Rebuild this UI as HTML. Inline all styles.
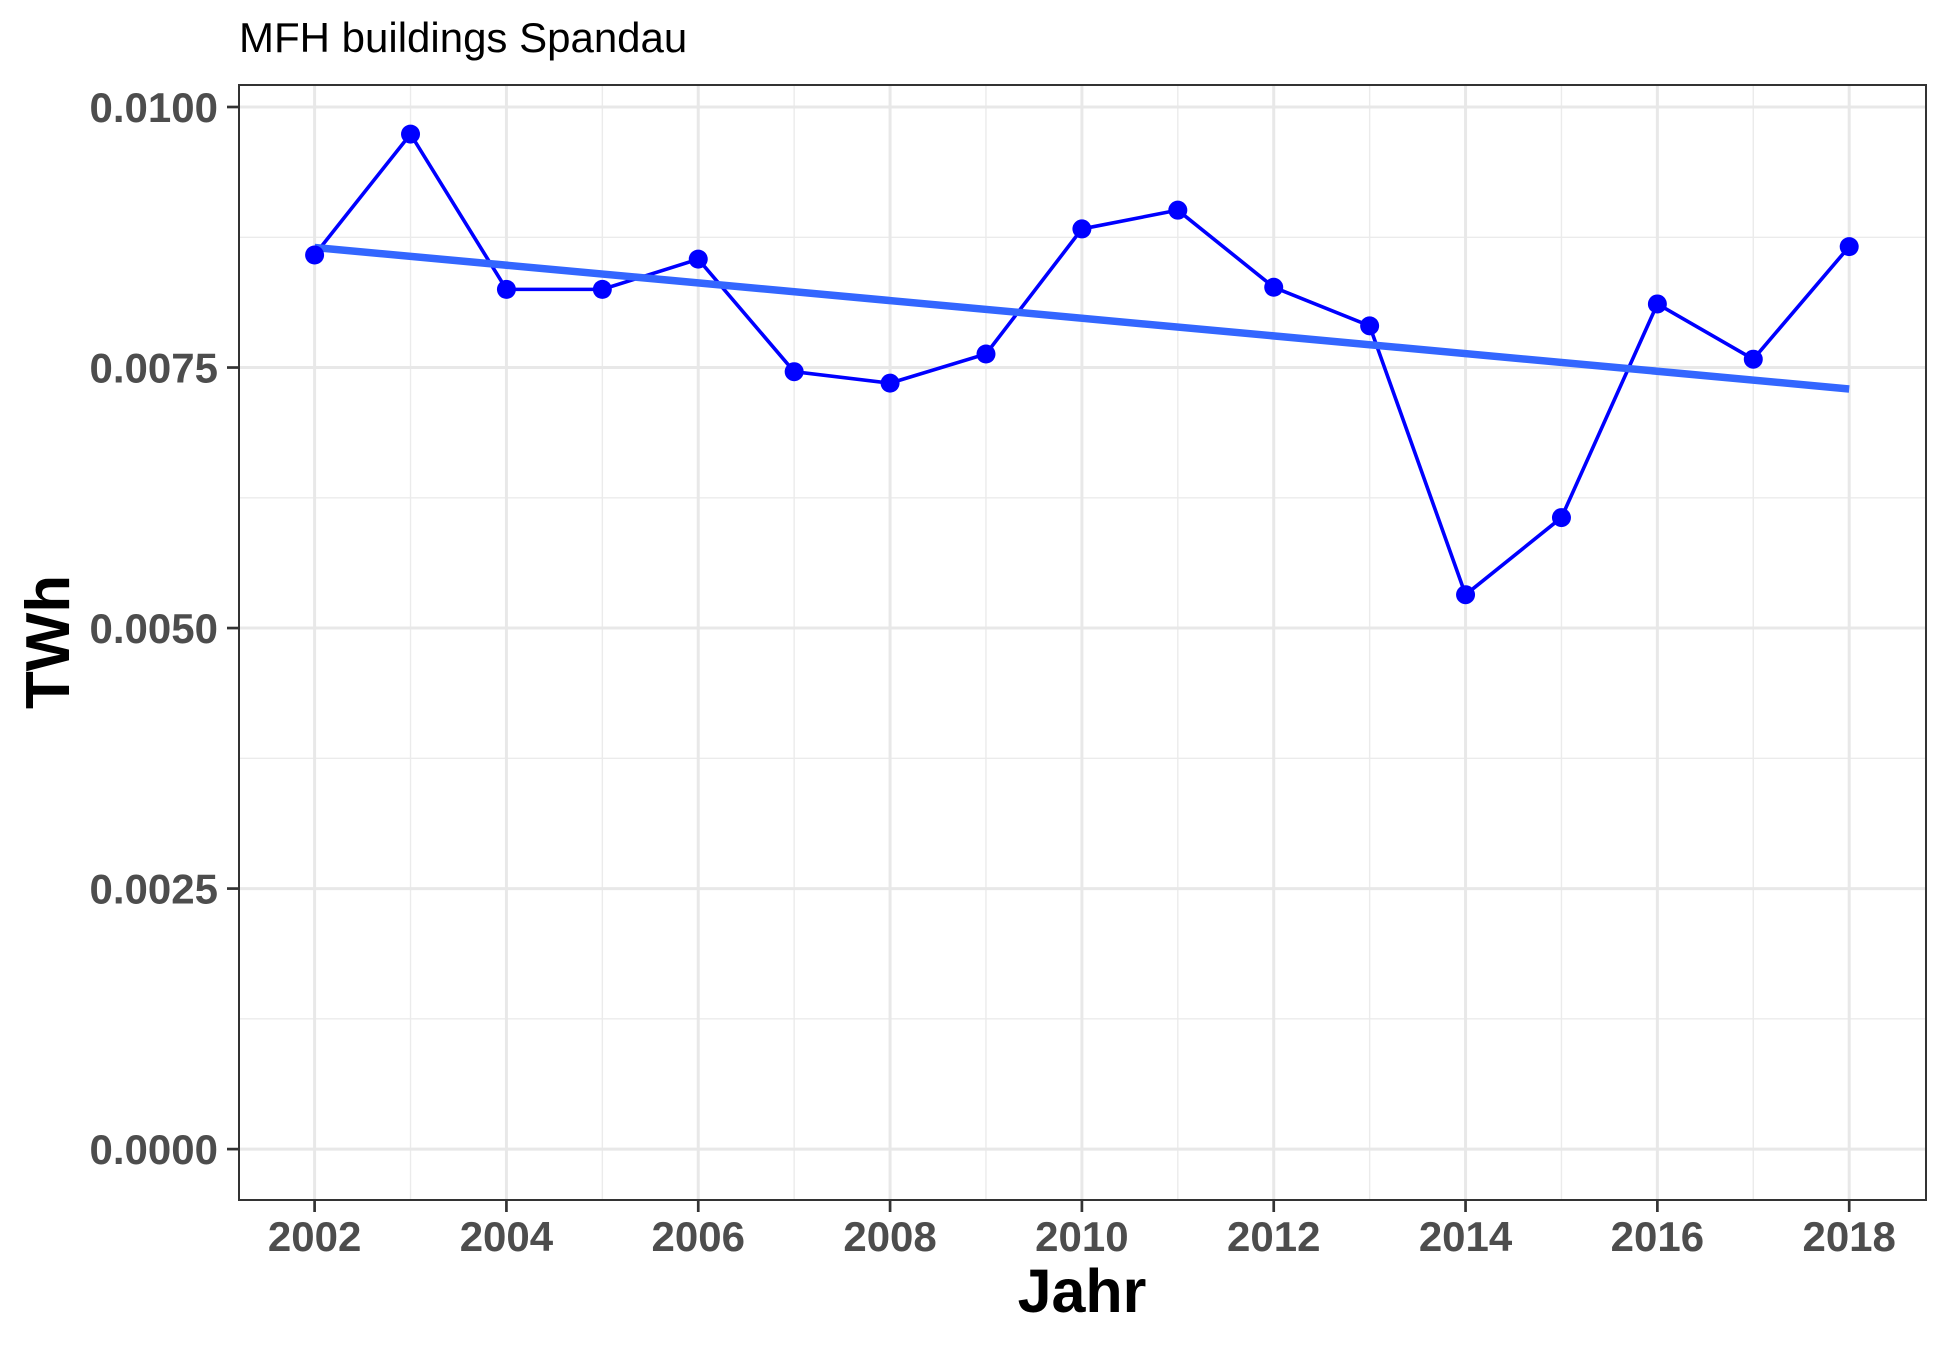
<!DOCTYPE html>
<html><head><meta charset="utf-8"><style>
body{margin:0;background:#fff}
svg{display:block;font-family:"Liberation Sans",sans-serif}
</style></head><body>
<svg id="c" width="1950" height="1349">
<text x="239" y="52" font-size="42" fill="#000">MFH buildings Spandau</text>
<g id="grid"></g>
<g id="marks"></g>
<rect x="239" y="85" width="1687" height="1115" fill="none" stroke="#333" stroke-width="2"/>
<g id="axes"></g>
<text x="1082" y="1312" font-size="61" font-weight="bold" text-anchor="middle">Jahr</text>
<text transform="translate(69,642) rotate(-90)" font-size="62" font-weight="bold" text-anchor="middle">TWh</text>
</svg>
<script>
const years=[2002,2003,2004,2005,2006,2007,2008,2009,2010,2011,2012,2013,2014,2015,2016,2017,2018];
const values=[0.00858,0.00974,0.00825,0.00825,0.00854,0.00746,0.00735,0.00763,0.00883,0.00901,0.00827,0.00790,0.00532,0.00606,0.00811,0.00758,0.00866];
const yTicks=[0,0.0025,0.005,0.0075,0.01];
const yTickLabels=["0.0000","0.0025","0.0050","0.0075","0.0100"];
const xTicks=[2002,2004,2006,2008,2010,2012,2014,2016,2018];
const NS="http://www.w3.org/2000/svg";
const X=v=>314.6+(v-2002)*(1849.2-314.6)/16;
const Y=v=>1149.1-v*(1149.1-107.0)/0.01;
function mk(tag,attrs,parent){const e=document.createElementNS(NS,tag);for(const k in attrs)e.setAttribute(k,attrs[k]);parent.appendChild(e);return e;}
const grid=document.getElementById('grid'),marks=document.getElementById('marks'),axes=document.getElementById('axes');
for(let i=0;i<yTicks.length-1;i++){const v=(yTicks[i]+yTicks[i+1])/2;const l=mk('line',{x1:239,x2:1926,y1:Y(v),y2:Y(v),stroke:'#ebebeb','stroke-width':1.4},grid);

}
for(let y=2003;y<=2017;y+=2){const l=mk('line',{x1:X(y),x2:X(y),y1:85,y2:1200,stroke:'#ebebeb','stroke-width':1.4},grid);

}
yTicks.forEach((v,i)=>{const l=mk('line',{x1:239,x2:1926,y1:Y(v),y2:Y(v),stroke:'#e8e8e8','stroke-width':3},grid);


const t=mk('line',{x1:227,x2:239,y1:Y(v),y2:Y(v),stroke:'#333','stroke-width':2.7},axes);


const tx=mk('text',{x:218,y:Y(v)+15,'font-size':42,'font-weight':'bold',fill:'#4d4d4d','text-anchor':'end'},axes);tx.textContent=yTickLabels[i];

});
xTicks.forEach(v=>{const l=mk('line',{x1:X(v),x2:X(v),y1:85,y2:1200,stroke:'#e8e8e8','stroke-width':3},grid);


const t=mk('line',{x1:X(v),x2:X(v),y1:1200,y2:1212,stroke:'#333','stroke-width':2.7},axes);


const tx=mk('text',{x:X(v),y:1251,'font-size':42,'font-weight':'bold',fill:'#4d4d4d','text-anchor':'middle'},axes);tx.textContent=String(v);

});
const pl=mk('polyline',{points:years.map((y,i)=>X(y)+','+Y(values[i])).join(' '),fill:'none',stroke:'#0000ff','stroke-width':3.6},marks);


const n=years.length,mx=years.reduce((a,b)=>a+b)/n,my=values.reduce((a,b)=>a+b)/n;
let sxy=0,sxx=0;years.forEach((y,i)=>{sxy+=(y-mx)*(values[i]-my);sxx+=(y-mx)*(y-mx);});
const b=sxy/sxx,a=my-b*mx,x0=years[0],x1=years[n-1];
const tr=mk('line',{x1:X(x0),y1:Y(a+b*x0),x2:X(x1),y2:Y(a+b*x1),stroke:'#3366ff','stroke-width':7.5},marks);


years.forEach((y,i)=>{const c=mk('circle',{cx:X(y),cy:Y(values[i]),r:9.5,fill:'#0000ff'},marks);

});
</script>
</body></html>
